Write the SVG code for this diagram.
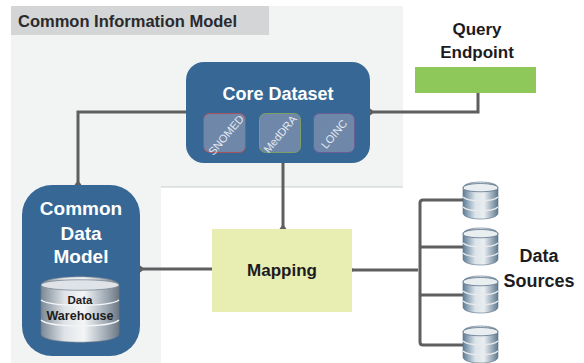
<svg xmlns="http://www.w3.org/2000/svg" width="584" height="363" viewBox="0 0 584 363">
<style>
.sans{font-family:"Liberation Sans",Arial,sans-serif;font-weight:bold}
.w{fill:#fff;text-anchor:middle}
.k{fill:#1c1c1e;text-anchor:middle}
.sub{fill:#6f87a8;stroke-width:1}
.subt{font-family:"Liberation Sans",Arial,sans-serif;font-size:11px;fill:#e4e9f0;text-anchor:middle}
.line{fill:none;stroke:#5f5f61;stroke-width:3}
.band{fill:none;stroke:#e8eaec;stroke-width:1.2}
</style>
<defs>
<marker id="arr" markerUnits="userSpaceOnUse" markerWidth="14" markerHeight="14" refX="1.5" refY="7" orient="auto-start-reverse" viewBox="0 0 14 14">
<path d="M10 1.5 L2 7 L10 12.5" fill="none" stroke="#5f5f61" stroke-width="3"/>
</marker>
<linearGradient id="metal" x1="0" x2="1" y1="0" y2="0">
<stop offset="0" stop-color="#7b8894"/><stop offset=".3" stop-color="#dfe3e8"/><stop offset=".55" stop-color="#f4f5f6"/><stop offset=".85" stop-color="#9aa5b0"/><stop offset="1" stop-color="#6d7884"/>
</linearGradient>
<linearGradient id="blueMetal" x1="0" x2="1" y1="0" y2="0">
<stop offset="0" stop-color="#5e7d96"/><stop offset=".35" stop-color="#dbe4ea"/><stop offset=".6" stop-color="#e9eef1"/><stop offset="1" stop-color="#5f7a90"/>
</linearGradient>
<g id="db">
<path d="M0 6 C0 -2 35 -2 35 6 V31 C35 39 0 39 0 31 Z" fill="url(#blueMetal)" stroke="#5c7286" stroke-width=".6"/>
<path d="M0 6 C0 0 35 0 35 6 C35 11 0 11 0 6 Z" fill="#e9eef1" stroke="#5c7286" stroke-width=".8"/>
<path class="band" d="M0 15 C5 20 30 20 35 15 M0 25 C5 30 30 30 35 25"/>
</g>
</defs>
<rect width="584" height="363" fill="#fff"/>
<g id="background">
<path d="M11 6 H403 V187 H161 V363 H11 Z" fill="#f2f4f4"/>
<path d="M161 187 H403" stroke="#c9cbcc" stroke-width="1"/>
</g>
<g id="title">
<rect x="11" y="6" width="258" height="29" fill="#d3d5d7"/>
<text class="sans" x="18" y="27" font-size="16.5" fill="#2a2a2c">Common Information Model</text>
</g>
<g id="connectors">
<path class="line" d="M186 112 H78 V182" marker-end="url(#arr)"/>
<path class="line" d="M283 163 V226" marker-end="url(#arr)"/>
<path class="line" d="M212 269 H143" marker-end="url(#arr)"/>
<path class="line" d="M478 92 V112 H373" marker-end="url(#arr)"/>
<path class="line" d="M418 270 H353" marker-end="url(#arr)"/>
<path class="line" d="M464 200 H423 Q420 200 420 203 V342 Q420 345 423 345 H464 M420 247 H464 M420 295 H464"/>
</g>
<g id="core-dataset">
<rect x="186" y="62" width="184" height="101" rx="18" fill="#376795"/>
<text class="sans w" x="278" y="100" font-size="18">Core Dataset</text>
<g id="snomed"><rect class="sub" x="203.500" y="113.500" width="42" height="39" rx="6" stroke="#a5535f"/><text class="subt" transform="translate(226 135) rotate(-50)" y="4">SNOMED</text></g>
<g id="meddra"><rect class="sub" x="259.500" y="113.500" width="41" height="39" rx="6" stroke="#7d9e68"/><text class="subt" transform="translate(280 134) rotate(-50)" y="4">MedDRA</text></g>
<g id="loinc"><rect class="sub" x="313.500" y="113.500" width="41" height="39" rx="6" stroke="#6a5d96"/><text class="subt" transform="translate(334 134) rotate(-50)" y="4">LOINC</text></g>
</g>
<g id="common-data-model">
<rect x="22" y="185" width="118" height="171" rx="30" fill="#376795"/>
<text class="sans w" font-size="19" x="81" y="215">Common</text>
<text class="sans w" font-size="19" x="81" y="240">Data</text>
<text class="sans w" font-size="19" x="81" y="263">Model</text>
<g id="data-warehouse">
<path d="M41 285 C41 274 119 274 119 285 V334 C119 345 41 345 41 334 Z" fill="url(#metal)" stroke="#6d7884" stroke-width=".6"/>
<path d="M41 285 C41 278 119 278 119 285 C119 292 41 292 41 285 Z" fill="#dfe3e8" stroke="#7b8894" stroke-width=".8"/>
<path d="M41 300 C50 307 110 307 119 300 M41 320 C50 328 110 328 119 320" fill="none" stroke="#f2f4f6" stroke-width="1.5"/>
<text class="sans k" font-size="11.500" x="80" y="304">Data</text>
<text class="sans k" font-size="12.500" x="80" y="320">Warehouse</text>
</g>
</g>
<g id="mapping">
<rect x="212" y="229" width="140" height="83" fill="#e8edb2"/>
<text class="sans" x="282" y="276" font-size="17" fill="#1c1c1e" text-anchor="middle">Mapping</text>
</g>
<g id="query-endpoint">
<rect x="415" y="67" width="121" height="26" fill="#8fc85a"/>
<text class="sans k" font-size="17" x="477" y="35">Query</text>
<text class="sans k" font-size="17" x="477" y="58">Endpoint</text>
</g>
<g id="source-1"><use href="#db" x="463" y="182"/></g>
<g id="source-2"><use href="#db" x="463" y="228"/></g>
<g id="source-3"><use href="#db" x="463" y="276"/></g>
<g id="source-4"><use href="#db" x="463" y="326"/></g>
<g id="data-sources">
<text class="sans k" font-size="18" x="539" y="262">Data</text>
<text class="sans k" font-size="18" x="539" y="287">Sources</text>
</g>
</svg>
